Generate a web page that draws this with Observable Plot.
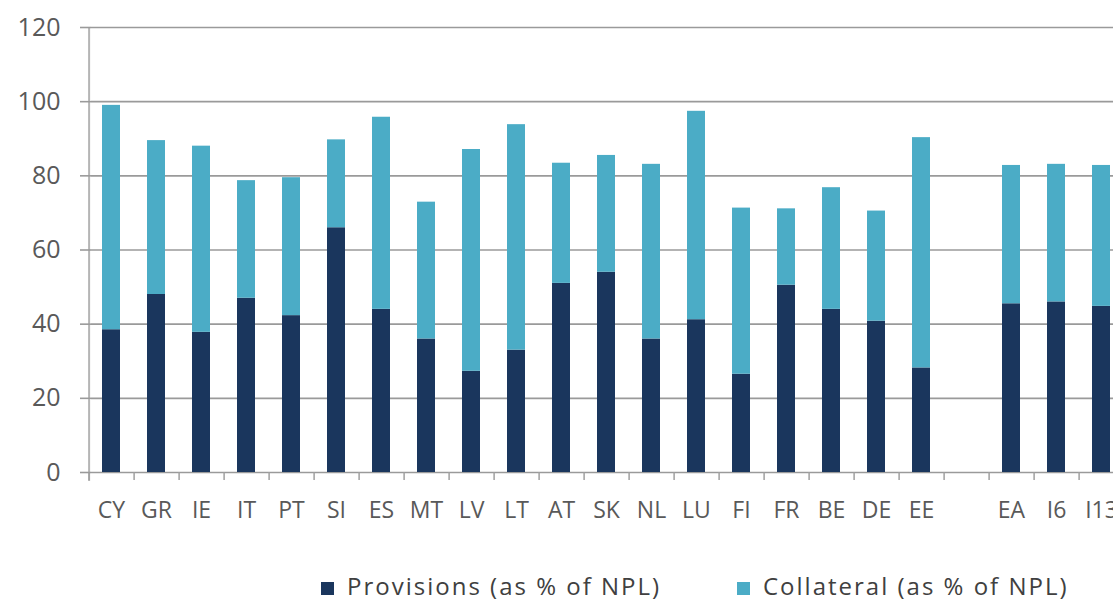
<!DOCTYPE html>
<html>
<head>
<meta charset="utf-8">
<script src="https://cdn.jsdelivr.net/npm/d3@7"></script>
<script src="https://cdn.jsdelivr.net/npm/@observablehq/plot@0.6"></script>
<style>
  html, body { margin: 0; padding: 0; background: #fff; overflow: hidden; }
  #wrap { position: relative; width: 1113px; height: 600px; }
  .legend-item { position: absolute; top: 574px; display: flex; align-items: center; line-height: 24px;
    font-family: "Open Sans", sans-serif; font-size: 24px; letter-spacing: 2px; color: #404040; white-space: nowrap; }
  .legend-item .sw { width: 13px; height: 13px; margin-right: 13px; margin-top: 4px; flex: none; }
</style>
</head>
<body>
<div id="wrap"></div>
<script>
// ---- data ----
const categories = ["CY","GR","IE","IT","PT","SI","ES","MT","LV","LT","AT","SK","NL","LU","FI","FR","BE","DE","EE","","EA","I6","I13"];
const provisions = [38.5,48.0,37.8,47.0,42.3,66.0,44.0,36.0,27.3,33.0,51.0,54.0,36.0,41.2,26.5,50.5,44.0,40.8,28.2,null,45.5,46.0,44.8];
const collateral = [60.5,41.5,50.2,31.7,37.2,23.7,51.8,36.9,59.8,60.8,32.4,31.5,47.1,56.2,44.8,20.6,32.8,29.7,62.1,null,37.3,37.1,38.0];
const seriesNames = ["Provisions (as % of NPL)", "Collateral (as % of NPL)"];
const seriesColors = ["#1a365d", "#4bacc6"];
const yTicks = [0, 20, 40, 60, 80, 100, 120];

// long-form table for stacking
const rows = [];
categories.forEach((c, i) => {
  if (provisions[i] != null) rows.push({cat: c, series: seriesNames[0], value: provisions[i]});
  if (collateral[i] != null) rows.push({cat: c, series: seriesNames[1], value: collateral[i]});
});

const W = 1113, H = 535;
const xStart = 91, xEnd = 1121;
const step = (xEnd - xStart) / categories.length;
const font = '"Open Sans", sans-serif';

const chart = Plot.plot({
  width: W,
  height: H,
  marginTop: 27,
  marginBottom: 63,
  marginLeft: xStart,
  marginRight: 0,
  style: {fontFamily: font, background: "#fff", overflow: "hidden"},
  x: {domain: categories, range: [xStart, xEnd], paddingInner: 0.6, paddingOuter: 0, label: null, axis: null},
  y: {domain: [0, 120], label: null, axis: null},
  color: {domain: seriesNames, range: seriesColors},
  marks: [
    Plot.gridY(yTicks, {stroke: "#9a9a9a", strokeOpacity: 1, strokeWidth: 1.6}),
    Plot.barY(rows, Plot.stackY({x: "cat", y: "value", fill: "series", order: null})),
    // left axis line
    Plot.ruleX([categories[0]], {x: d => d, dx: -step / 2, stroke: "#b5b5b5", strokeWidth: 2, insetBottom: -9}),
    // category boundary ticks
    Plot.axisX({tickSize: 8, tickFormat: () => "", dx: -step / 2, stroke: "#a0a0a0", strokeWidth: 1.5}),
    // category labels
    Plot.axisX({tickSize: 0, tickPadding: 29, fontSize: 23, fill: "#595959", fontFamily: font}),
    // y axis
    Plot.axisY({ticks: yTicks, tickSize: 11, tickPadding: 20, fontSize: 25, fill: "#595959",
      stroke: "#9a9a9a", strokeWidth: 1.6, fontFamily: font})
  ]
});

const wrap = document.getElementById("wrap");
wrap.appendChild(chart);

// legend
const legendLefts = [321, 737];
seriesNames.forEach((name, i) => {
  const item = document.createElement("div");
  item.className = "legend-item";
  item.style.left = legendLefts[i] + "px";
  const sw = document.createElement("span");
  sw.className = "sw";
  sw.style.background = seriesColors[i];
  const tx = document.createElement("span");
  tx.textContent = name;
  item.appendChild(sw);
  item.appendChild(tx);
  wrap.appendChild(item);
});
</script>
</body>
</html>
